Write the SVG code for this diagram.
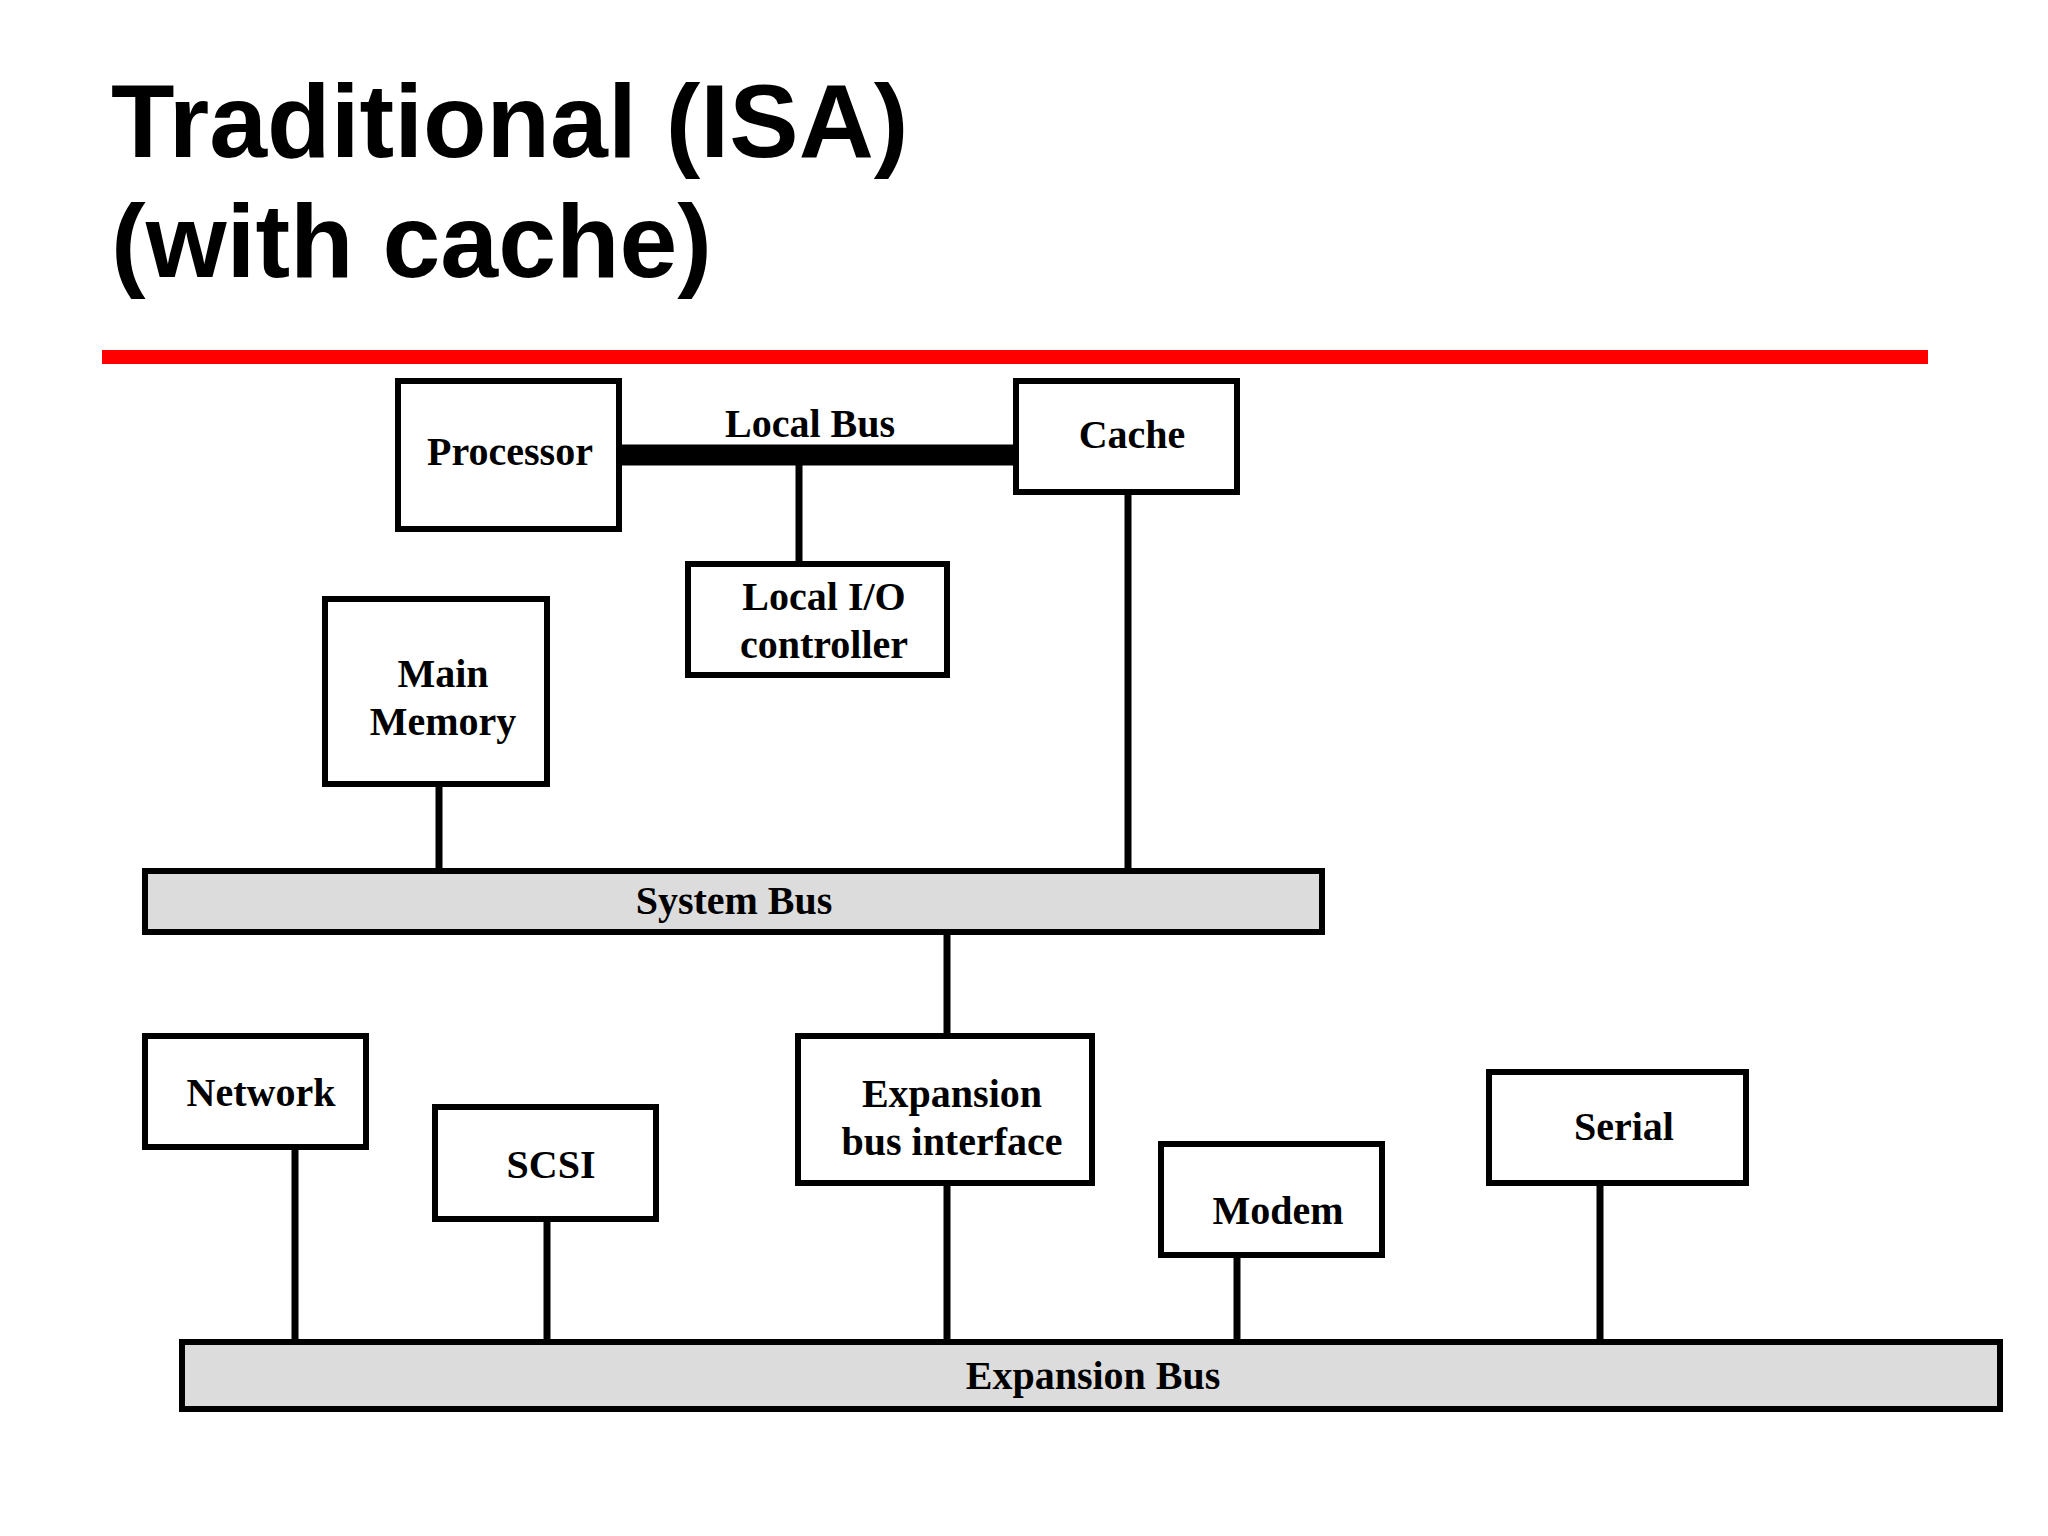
<svg xmlns="http://www.w3.org/2000/svg" width="2048" height="1536" viewBox="0 0 2048 1536">
<style>
.b{fill:#fff;stroke:#000;stroke-width:6}
.bus{fill:#dcdcdc;stroke:#000;stroke-width:6}
.t{font-family:"Liberation Serif",serif;font-weight:bold;font-size:40px;fill:#000;text-anchor:middle}
.c{stroke:#000;stroke-width:7;fill:none}
.h{font-family:"Liberation Sans",Arial,sans-serif;font-weight:bold;font-size:104px;fill:#000}
</style>
<rect width="2048" height="1536" fill="#fff"/>
<text class="h" x="111" y="157">Traditional (ISA)</text>
<text class="h" x="111" y="277">(with cache)</text>
<rect x="102" y="350" width="1826" height="14" fill="#f00"/>
<g id="connectors">
<line class="c" x1="619" y1="455" x2="1016" y2="455" style="stroke-width:21"/>
<line class="c" x1="799" y1="465" x2="799" y2="564"/>
<line class="c" x1="439" y1="784" x2="439" y2="871"/>
<line class="c" x1="1128" y1="492" x2="1128" y2="871"/>
<line class="c" x1="947" y1="932" x2="947" y2="1036"/>
<line class="c" x1="295" y1="1147" x2="295" y2="1342"/>
<line class="c" x1="547" y1="1219" x2="547" y2="1342"/>
<line class="c" x1="947" y1="1183" x2="947" y2="1342"/>
<line class="c" x1="1237" y1="1255" x2="1237" y2="1342"/>
<line class="c" x1="1600" y1="1183" x2="1600" y2="1342"/>
<text class="t" x="810" y="437">Local Bus</text>
</g>
<g id="processor"><rect class="b" x="398" y="381" width="221" height="148"/><text class="t" x="510" y="465">Processor</text></g>
<g id="cache"><rect class="b" x="1016" y="381" width="221" height="111"/><text class="t" x="1132" y="448">Cache</text></g>
<g id="localio"><rect class="b" x="688" y="564" width="259" height="111"/><text class="t" x="824" y="610">Local I/O</text><text class="t" x="824" y="658">controller</text></g>
<g id="mainmemory"><rect class="b" x="325" y="599" width="222" height="185"/><text class="t" x="443" y="687">Main</text><text class="t" x="443" y="735">Memory</text></g>
<g id="systembus"><rect class="bus" x="145" y="871" width="1177" height="61"/><text class="t" x="734" y="914">System Bus</text></g>
<g id="network"><rect class="b" x="145" y="1036" width="221" height="111"/><text class="t" x="261" y="1106">Network</text></g>
<g id="scsi"><rect class="b" x="435" y="1107" width="221" height="112"/><text class="t" x="551" y="1178">SCSI</text></g>
<g id="expif"><rect class="b" x="798" y="1036" width="294" height="147"/><text class="t" x="952" y="1107">Expansion</text><text class="t" x="952" y="1155">bus interface</text></g>
<g id="modem"><rect class="b" x="1161" y="1144" width="221" height="111"/><text class="t" x="1278" y="1224">Modem</text></g>
<g id="serial"><rect class="b" x="1489" y="1072" width="257" height="111"/><text class="t" x="1624" y="1140">Serial</text></g>
<g id="expbus"><rect class="bus" x="182" y="1342" width="1818" height="67"/><text class="t" x="1093" y="1389">Expansion Bus</text></g>
</svg>
